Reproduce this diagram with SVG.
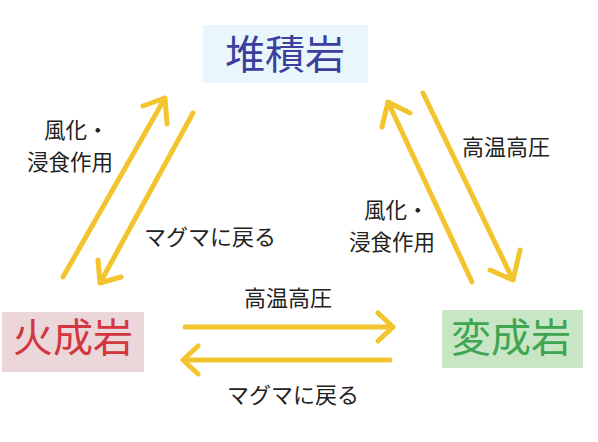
<svg xmlns="http://www.w3.org/2000/svg" width="598" height="442" viewBox="0 0 598 442">
<style>
.arr{fill:none;stroke:#f2c52e;stroke-width:5;stroke-linecap:round;stroke-linejoin:round}
.lbl{font-family:"Noto Sans CJK JP","Noto Sans CJK SC",sans-serif;font-size:22px;fill:#222}
.lbl2{font-size:21.5px}
.node{font-family:"Noto Sans CJK JP","Noto Sans CJK SC",sans-serif;font-size:40px;text-anchor:middle}
</style>
<rect width="598" height="442" fill="#fff"/>
<g id="node-sedimentary">
<rect x="203" y="25" width="165" height="58" fill="#e9f7fc"/>
<text class="node" x="285" y="69" fill="#3c3f9e">堆積岩</text>
</g>
<g id="node-igneous">
<rect x="2" y="312" width="142" height="60" fill="#ebd6d9"/>
<text class="node" x="73" y="352" fill="#d2363f">火成岩</text>
</g>
<g id="node-metamorphic">
<rect x="442" y="310" width="141" height="58" fill="#c8e6c4"/>
<text class="node" x="511" y="352" fill="#3ea552">変成岩</text>
</g>
<g id="connectors">
<path class="arr" d="M63,277 L165,98 M143,106 L165,98 L167,124"/>
<path class="arr" d="M193,113 L100,283 M98,260 L100,283 L121,277"/>
<path class="arr" d="M472,282 L388,102 M382,127 L388,102 L410,113"/>
<path class="arr" d="M423,93 L513,280 M490,270 L513,280 L520,250"/>
<path class="arr" d="M185,327 L393,327 M378,313 L393,327 L378,341"/>
<path class="arr" d="M390,360 L183,360 M198,346 L183,360 L198,374"/>
</g>
<g id="labels">
<text class="lbl lbl2" x="44" y="138">風化・</text>
<text class="lbl lbl2" x="27" y="170">浸食作用</text>
<text class="lbl" x="144" y="245">マグマに戻る</text>
<text class="lbl" x="462" y="155">高温高圧</text>
<text class="lbl lbl2" x="364" y="218">風化・</text>
<text class="lbl lbl2" x="349" y="250">浸食作用</text>
<text class="lbl" x="244" y="306">高温高圧</text>
<text class="lbl" x="227" y="403">マグマに戻る</text>
</g>
</svg>
